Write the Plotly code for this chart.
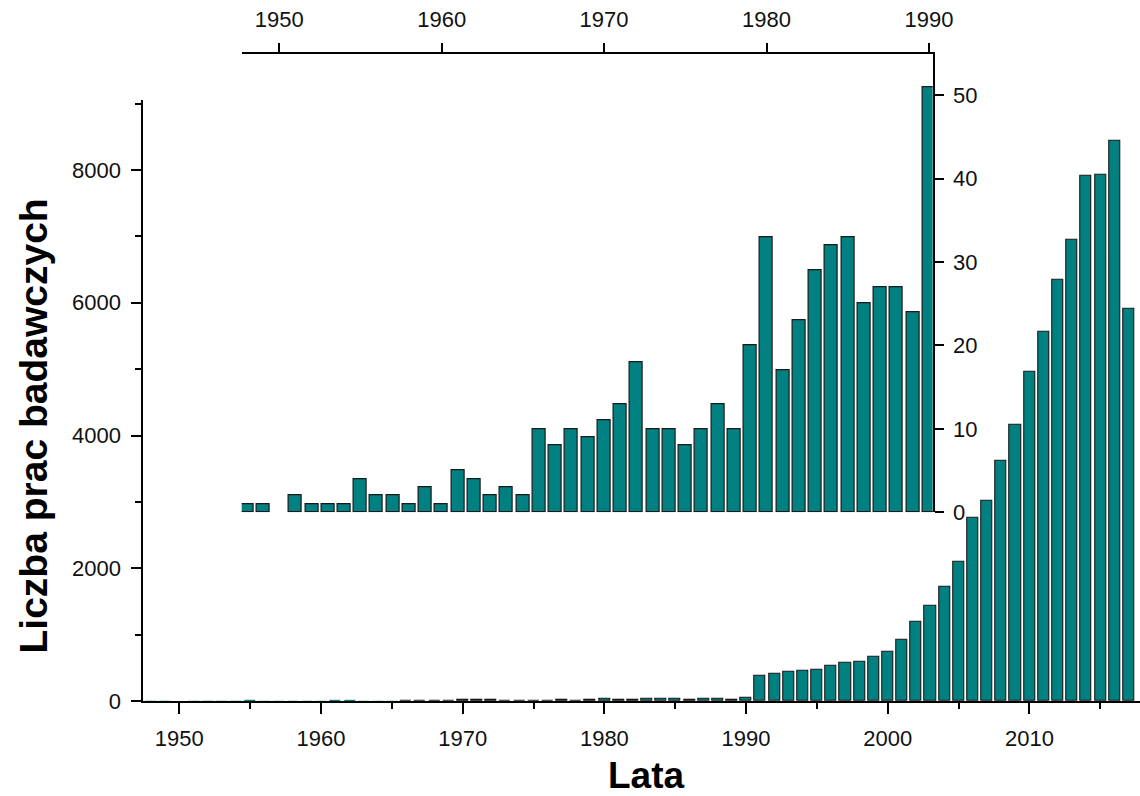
import plotly.graph_objects as go

# Number of research papers per year
years = list(range(1948, 2018))
papers = [
    1, 1, 0, 2, 1, 1, 1, 4, 2, 2,            # 1948-1957
    1, 3, 1, 5, 4, 2, 3, 2, 10, 8,           # 1958-1967
    10, 9, 11, 13, 18, 10, 10, 8, 10, 13,    # 1968-1977
    10, 20, 33, 17, 23, 29, 32, 33, 25, 27,  # 1978-1987
    27, 24, 51,                              # 1988-1990
    380, 415, 445, 462, 465, 535, 578, 585, 665, 745,          # 1991-2000
    920, 1200, 1440, 1725, 2100, 2755, 3020, 3620, 4155, 4960,  # 2001-2010
    5565, 6340, 6945, 7920, 7935, 8435, 5910,                   # 2011-2017
]

# Inset: the early period up to 1990
inset_end = 1990
inset_years = [y for y in years if y <= inset_end]
inset_papers = papers[:len(inset_years)]

main_xticks = [1950, 1960, 1970, 1980, 1990, 2000, 2010]
main_yticks = [0, 2000, 4000, 6000, 8000]
inset_xticks = [1950, 1960, 1970, 1980, 1990]
inset_yticks = [0, 10, 20, 30, 40, 50]

W, H = 1140, 796
BAR = "#008080"
EDGE = "#1a1a1a"
FONT = "Liberation Sans, Arial, sans-serif"

# bars too short to show on the large scale get no outline
main_edge = [0 if v < 6 else 1.1 for v in papers]
inset_edge = [0 if v == 0 else 1.2 for v in inset_papers]

fig = go.Figure()
fig.add_trace(go.Bar(
    x=years, y=papers, width=0.78,
    marker=dict(color=BAR, line=dict(color=EDGE, width=main_edge)),
    xaxis="x", yaxis="y", showlegend=False,
))
fig.add_trace(go.Bar(
    x=inset_years, y=inset_papers, width=0.8,
    marker=dict(color=BAR, line=dict(color=EDGE, width=inset_edge)),
    xaxis="x2", yaxis="y2", showlegend=False,
))

tick_font = dict(family=FONT, size=22, color="#111")
common = dict(showgrid=False, zeroline=False, showline=True, linecolor="black",
              linewidth=2, ticks="outside", tickcolor="black", tickwidth=1.5,
              tickfont=tick_font, automargin=False)

fig.update_layout(
    width=W, height=H, autosize=False,
    margin=dict(l=0, r=0, t=0, b=0, pad=0),
    paper_bgcolor="white", plot_bgcolor="rgba(0,0,0,0)",
    bargap=0,
    xaxis=dict(domain=[143.3 / W, 1.0], range=[1947.46, 2017.8], anchor="y",
               tickvals=main_xticks, ticklen=11, ticklabelstandoff=6,
               minor=dict(dtick=5, tick0=1945, ticks="outside", ticklen=6,
                          tickcolor="black", tickwidth=1.5),
               **common),
    yaxis=dict(domain=[1 - 701 / H, 1 - 99.8 / H], range=[0, 9058], anchor="x",
               tickvals=main_yticks, ticklen=10, ticklabelstandoff=6,
               minor=dict(dtick=1000, tick0=0, ticks="outside", ticklen=6,
                          tickcolor="black", tickwidth=1.5),
               **common),
    xaxis2=dict(domain=[241.7 / W, 932.7 / W], range=[1947.69, 1990.23],
                anchor="y2", side="top", tickvals=inset_xticks, ticklen=9,
                ticklabelstandoff=8, **common),
    yaxis2=dict(domain=[1 - 512.3 / H, 1 - 54.3 / H], range=[0, 54.9],
                anchor="x2", side="right", tickvals=inset_yticks, ticklen=9,
                ticklabelstandoff=5, **common),
    annotations=[
        dict(text="<b>Lata</b>", x=646 / W, y=1 - 775 / H, xref="paper",
             yref="paper", xanchor="center", yanchor="middle", showarrow=False,
             font=dict(family=FONT, size=37, color="black")),
        dict(text="<b>Liczba prac badawczych</b>", x=32.5 / W, y=1 - 426 / H,
             xref="paper", yref="paper", xanchor="center", yanchor="middle",
             textangle=-90, showarrow=False,
             font=dict(family=FONT, size=39, color="black")),
    ],
)

# keep the page free of default body margins and scrollbars
page_js = ("document.documentElement.style.margin='0';"
           "document.body.style.margin='0';"
           "document.body.style.overflow='hidden';")

fig.write_html("out.html", config={"responsive": False}, post_script=page_js)
